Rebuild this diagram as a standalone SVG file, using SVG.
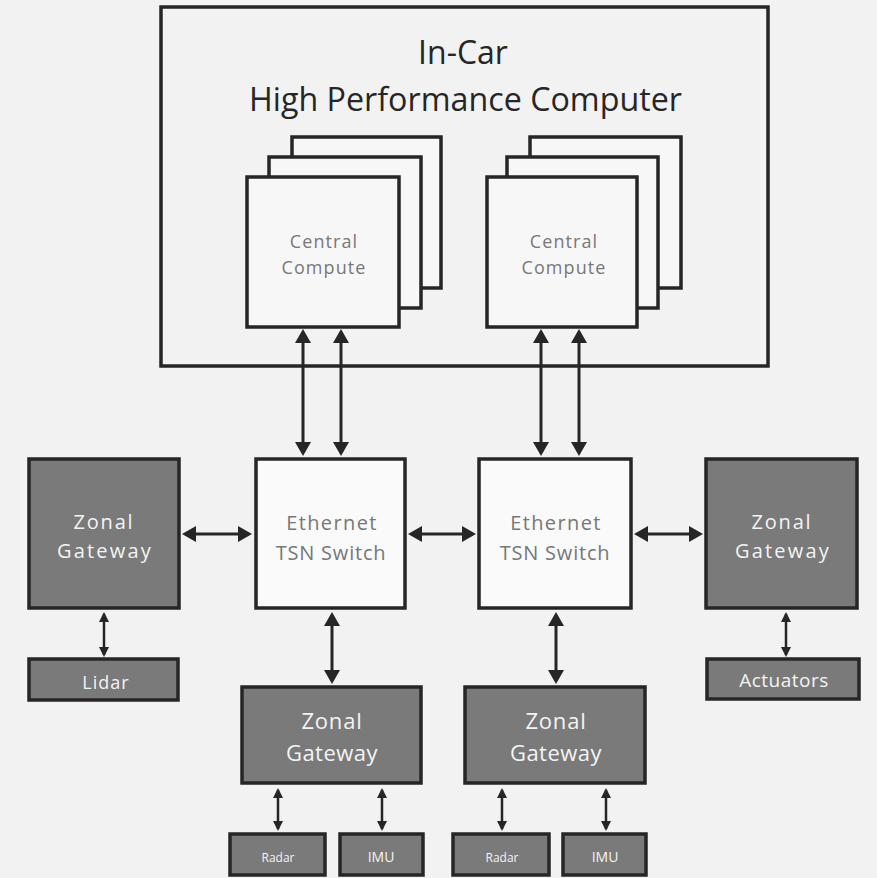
<svg xmlns="http://www.w3.org/2000/svg" width="877" height="878" viewBox="0 0 877 878">
  <defs>
    <style>
      .bg { fill: #f2f2f2; }
      .frame { fill: #f2f2f2; stroke: #262626; stroke-width: 3.5; }
      .cc { fill: #f7f7f7; stroke: #262626; stroke-width: 3.5; }
      .sw { fill: #fafafa; stroke: #262626; stroke-width: 3.5; }
      .zg { fill: #7a7a7a; stroke: #262626; stroke-width: 3.5; }
      .title { font-family: "Open Sans", "Noto Sans", sans-serif; font-size: 32px; fill: #262626; text-anchor: middle; }
      .lt { font-family: "Open Sans", "Noto Sans", sans-serif; fill: #777777; text-anchor: middle; }
      .dk { font-family: "Open Sans", "Noto Sans", sans-serif; fill: #f4f4f4; text-anchor: middle; }
      .link { stroke: #262626; stroke-width: 3; fill: none; marker-start: url(#head); marker-end: url(#head); }
      .link-s { stroke: #262626; stroke-width: 2.5; fill: none; marker-start: url(#head-s); marker-end: url(#head-s); }
    </style>
    <marker id="head" markerUnits="userSpaceOnUse" markerWidth="15" markerHeight="16" refX="11" refY="8" orient="auto-start-reverse" viewBox="0 0 15 16">
      <path d="M0,0 L14,8 L0,16 z" fill="#262626"/>
    </marker>
    <marker id="head-s" markerUnits="userSpaceOnUse" markerWidth="11" markerHeight="10" refX="8" refY="5" orient="auto-start-reverse" viewBox="0 0 11 10">
      <path d="M0,0 L10,5 L0,10 z" fill="#262626"/>
    </marker>
  </defs>

  <rect class="bg" x="0" y="0" width="877" height="878"/>

  <!-- High performance computer enclosure -->
  <g id="hpc">
    <rect class="frame" x="161" y="7" width="607" height="359"/>
    <text class="title" x="463" y="64">In-Car</text>
    <text class="title" x="465.5" y="111" textLength="433" lengthAdjust="spacingAndGlyphs">High Performance Computer</text>
  </g>

  <!-- Central compute stacks -->
  <g id="cc-left">
    <rect class="cc" x="292" y="137" width="149" height="151"/>
    <rect class="cc" x="269" y="157" width="152" height="151"/>
    <rect class="cc" x="247" y="177" width="152" height="150"/>
    <text class="lt" font-size="18" letter-spacing="1.1" x="324" y="248">Central</text>
    <text class="lt" font-size="18" letter-spacing="1.1" x="324" y="274">Compute</text>
  </g>
  <g id="cc-right">
    <rect class="cc" x="530" y="137" width="151" height="151"/>
    <rect class="cc" x="507" y="157" width="151" height="151"/>
    <rect class="cc" x="487" y="177" width="150" height="150"/>
    <text class="lt" font-size="18" letter-spacing="1.1" x="564" y="248">Central</text>
    <text class="lt" font-size="18" letter-spacing="1.1" x="564" y="274">Compute</text>
  </g>

  <!-- Ethernet switches -->
  <g id="switch-left">
    <rect class="sw" x="256" y="459" width="149" height="149"/>
    <text class="lt" font-size="20" letter-spacing="1.4" x="332" y="530">Ethernet</text>
    <text class="lt" font-size="20" letter-spacing="0.8" x="331" y="560">TSN Switch</text>
  </g>
  <g id="switch-right">
    <rect class="sw" x="479" y="459" width="152" height="149"/>
    <text class="lt" font-size="20" letter-spacing="1.4" x="556" y="530">Ethernet</text>
    <text class="lt" font-size="20" letter-spacing="0.8" x="555" y="560">TSN Switch</text>
  </g>

  <!-- Zonal gateways -->
  <g id="zg-left">
    <rect class="zg" x="29" y="459" width="150" height="149"/>
    <text class="dk" font-size="20" letter-spacing="1.8" x="104" y="529">Zonal</text>
    <text class="dk" font-size="20" letter-spacing="2.2" x="105" y="558">Gateway</text>
  </g>
  <g id="zg-right">
    <rect class="zg" x="706" y="459" width="151" height="149"/>
    <text class="dk" font-size="20" letter-spacing="1.8" x="782" y="529">Zonal</text>
    <text class="dk" font-size="20" letter-spacing="2.2" x="783" y="558">Gateway</text>
  </g>
  <g id="zg-bottom-left">
    <rect class="zg" x="242" y="687" width="179" height="96"/>
    <text class="dk" font-size="22" letter-spacing="0.8" x="332" y="729">Zonal</text>
    <text class="dk" font-size="22" letter-spacing="0.5" x="332" y="761">Gateway</text>
  </g>
  <g id="zg-bottom-right">
    <rect class="zg" x="465" y="687" width="180" height="96"/>
    <text class="dk" font-size="22" letter-spacing="0.8" x="556" y="729">Zonal</text>
    <text class="dk" font-size="22" letter-spacing="0.5" x="556" y="761">Gateway</text>
  </g>

  <!-- Sensors and actuators -->
  <g id="lidar">
    <rect class="zg" x="29" y="659" width="149" height="41"/>
    <text class="dk" font-size="18" letter-spacing="1" x="106" y="689">Lidar</text>
  </g>
  <g id="actuators">
    <rect class="zg" x="707" y="659" width="152" height="40"/>
    <text class="dk" font-size="19" letter-spacing="0.5" x="784" y="687">Actuators</text>
  </g>
  <g id="radar-left">
    <rect class="zg" x="230" y="834" width="95" height="41"/>
    <text class="dk" font-size="12" x="278" y="862">Radar</text>
  </g>
  <g id="imu-left">
    <rect class="zg" x="340" y="834" width="83" height="41"/>
    <text class="dk" font-size="14" x="381" y="862">IMU</text>
  </g>
  <g id="radar-right">
    <rect class="zg" x="453" y="834" width="96" height="41"/>
    <text class="dk" font-size="12" x="502" y="862">Radar</text>
  </g>
  <g id="imu-right">
    <rect class="zg" x="563" y="834" width="83" height="41"/>
    <text class="dk" font-size="14" x="605" y="862">IMU</text>
  </g>

  <!-- Bidirectional links -->
  <g id="connectors">
    <line class="link" x1="303" y1="332" x2="303" y2="453"/>
    <line class="link" x1="341" y1="332" x2="341" y2="453"/>
    <line class="link" x1="541" y1="332" x2="541" y2="453"/>
    <line class="link" x1="579" y1="332" x2="579" y2="453"/>

    <line class="link" x1="185" y1="534" x2="249" y2="534"/>
    <line class="link" x1="411" y1="534" x2="473" y2="534"/>
    <line class="link" x1="637" y1="534" x2="700" y2="534"/>

    <line class="link" x1="332" y1="615" x2="332" y2="681"/>
    <line class="link" x1="556" y1="615" x2="556" y2="681"/>

    <line class="link-s" x1="104" y1="614" x2="104" y2="655"/>
    <line class="link-s" x1="786" y1="614" x2="786" y2="655"/>

    <line class="link-s" x1="278" y1="790" x2="278" y2="829"/>
    <line class="link-s" x1="382" y1="790" x2="382" y2="829"/>
    <line class="link-s" x1="502" y1="790" x2="502" y2="829"/>
    <line class="link-s" x1="606" y1="790" x2="606" y2="829"/>
  </g>
</svg>
